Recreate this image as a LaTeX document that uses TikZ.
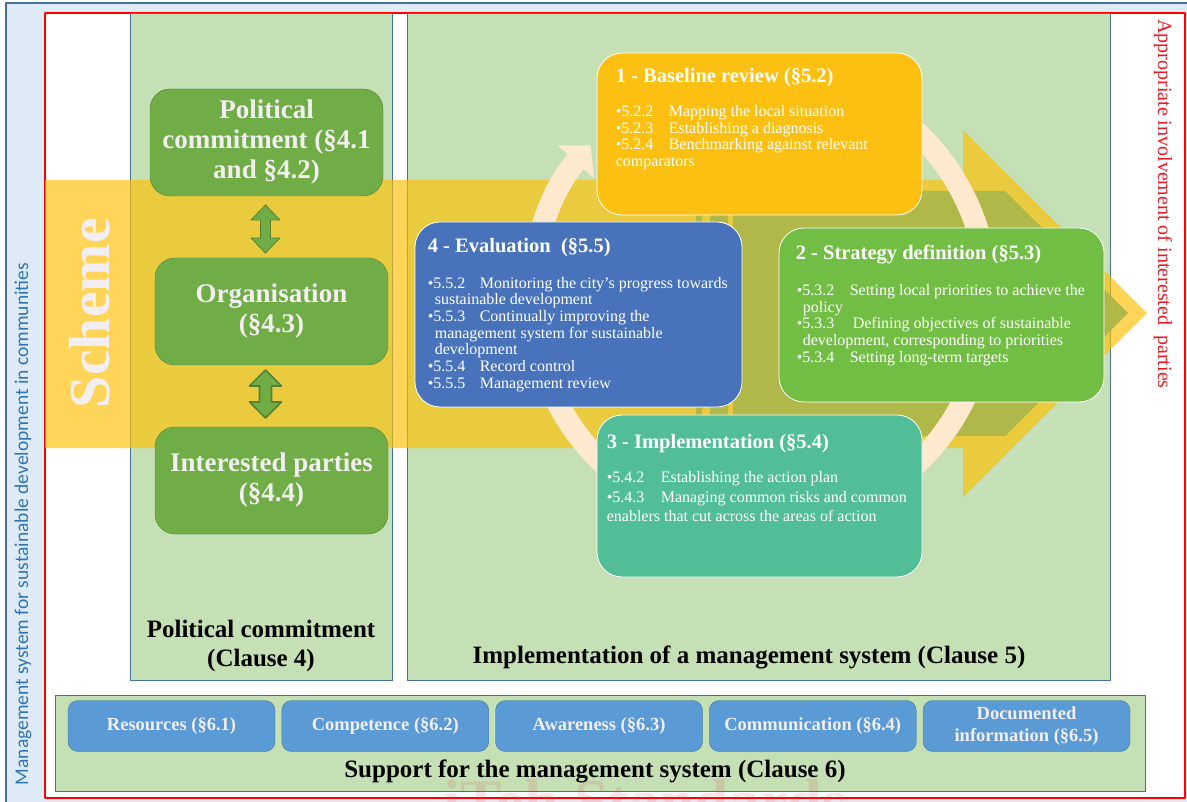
\documentclass[tikz,border=0pt]{standalone}
\usepackage{fontspec}
\setmainfont{Liberation Serif}
\newfontfamily\sidefont{Carlito}
\usetikzlibrary{arrows.meta,calc}
\definecolor{bgblue}{RGB}{222,235,247}
\definecolor{frameblue}{RGB}{65,113,156}
\definecolor{panelgreen}{RGB}{197,224,180}
\definecolor{bandyellow}{RGB}{255,192,0}
\definecolor{arrowolive}{RGB}{176,184,74}
\definecolor{cream}{RGB}{253,233,206}
\definecolor{baseyellow}{RGB}{252,192,18}
\definecolor{evalblue}{RGB}{72,114,185}
\definecolor{stratgreen}{RGB}{114,190,68}
\definecolor{impteal}{RGB}{82,190,152}
\definecolor{polgreen}{RGB}{112,173,71}
\definecolor{polborder}{RGB}{84,130,53}
\definecolor{suppblue}{RGB}{91,155,213}
\definecolor{paletext}{RGB}{242,238,242}
\definecolor{sideblue}{RGB}{46,117,182}
\definecolor{sidered}{RGB}{235,25,35}
\definecolor{markred}{RGB}{230,60,80}
\newcommand\stepno[2][53pt]{\strut\makebox[#1][l]{\textbullet#2}}
\begin{document}
\begin{tikzpicture}[x=1pt,y=-1pt,line join=round,
    panel/.style={draw=frameblue,line width=.8pt,fill=panelgreen},
    polbox/.style={draw=polborder,fill=polgreen,rounded corners=20pt,minimum width=233pt,minimum height=107pt,align=center,text=paletext,font=\fontsize{27}{30}\selectfont\bfseries},
    stepbox/.style={draw=white,line width=.8pt,rounded corners=25pt,minimum width=325pt},
    steptitle/.style={anchor=base west,inner sep=0pt,text=white,font=\fontsize{20.5}{24}\selectfont\bfseries},
    steplist/.style={anchor=north west,inner sep=0pt,text=white,align=left,font=\fontsize{16}{16.67}\selectfont},
    suppbox/.style={draw=frameblue,fill=suppblue,rounded corners=10pt,minimum width=207pt,minimum height=51pt,align=center,text=paletext,font=\fontsize{18.5}{22}\selectfont\bfseries},
    dblarrow/.style={draw=polborder,fill=polgreen},
    clause/.style={font=\fontsize{25}{29}\selectfont\bfseries,align=center,text=black}]
    \clip (0,0) rectangle (1187,802);
    % frame and panels
    \draw[fill=bgblue,draw=frameblue,line width=1.5pt] (6,3) rectangle (1200,815);
    \draw[red,line width=1.2pt,fill=white] (45,13) rectangle (1185,798);
    \draw[panel] (130,13) rectangle (392,680);
    \draw[panel] (407,13) rectangle (1110,680);
    \draw[panel] (55,695) rectangle (1145,791);
    % scheme arrows
    \fill[bandyellow,opacity=.65] (45,180) -- (963,180) -- (963,130) -- (1147,313) -- (963,497) -- (963,448) -- (45,448) -- cycle;
    \fill[arrowolive] (733,191) -- (1005,191) -- (1128,313) -- (1005,436) -- (733,436) -- cycle;
    \fill[arrowolive] (696,191) rectangle (702,436) (710,191) rectangle (728,436);
    \draw[cream,line width=22pt,-{Triangle[length=22pt,width=48pt]}] (760,298) ++(-65:228) arc[start angle=-65,end angle=222,radius=228];
    \node[rotate=90,text=paletext,font=\fontsize{58}{60}\selectfont\bfseries] (scheme) at (90,313) {Scheme};
    % political commitment
    \node[polbox] (polc) at (266.5,142.5) {Political\\commitment (§4.1\\and §4.2)};
    \node[polbox] (orga) at (271.5,311.5) {Organisation\\(§4.3)};
    \node[polbox] (intp) at (271.5,480.5) {Interested parties\\(§4.4)};
    \coordinate (arr1) at (265.5,229);
    \coordinate (arr2) at (265.5,394);
    \draw[dblarrow,line width=.8pt] ($(arr1)+(0,-24)$) -- ++(14.5,15) -- ++(-9.5,0) -- ++(0,18) -- ++(9.5,0) -- ++(-14.5,15) -- ++(-14.5,-15) -- ++(9.5,0) -- ++(0,-18) -- ++(-9.5,0) -- cycle;
    \draw[dblarrow,line width=1.6pt] ($(arr2)+(0,-24)$) -- ++(16,16) -- ++(-10,0) -- ++(0,16) -- ++(10,0) -- ++(-16,16) -- ++(-16,-16) -- ++(10,0) -- ++(0,-16) -- ++(-10,0) -- cycle;
    % management cycle
    \node[stepbox,fill=baseyellow,minimum height=162pt] (base) at (759.5,134) {};
    \node[stepbox,fill=stratgreen,minimum height=174pt] (strat) at (941.5,315) {};
    \node[stepbox,fill=impteal,minimum height=162pt] (impl) at (759.5,496) {};
    \node[stepbox,fill=evalblue,minimum width=327pt,minimum height=185pt] (eval) at (578.5,314.5) {};
    \node[steptitle] (basetitle) at ([shift={(19,30)}]base.north west) {1 - Baseline review (§5.2)};
    \node[steplist] (baselist) at ([shift={(19,52)}]base.north west) {\stepno{5.2.2}Mapping the local situation\\\stepno{5.2.3}Establishing a diagnosis\\\stepno{5.2.4}Benchmarking against relevant\\comparators};
    \node[steptitle] (strattitle) at ([shift={(17,32)}]strat.north west) {2 - Strategy definition (§5.3)};
    \node[steplist] (stratlist) at ([shift={(18,56)}]strat.north west) {\stepno{5.3.2}Setting local priorities to achieve the\\\hspace*{6pt}policy\\\stepno[56pt]{5.3.3}Defining objectives of sustainable\\\hspace*{6pt}development, corresponding to priorities\\\stepno{5.3.4}Setting long-term targets};
    \node[steptitle] (impltitle) at ([shift={(10,34)}]impl.north west) {3 - Implementation (§5.4)};
    \node[steplist,font=\fontsize{16}{19.3}\selectfont] (impllist) at ([shift={(10,54.5)}]impl.north west) {\stepno[54pt]{5.4.2}Establishing the action plan\\\stepno[54pt]{5.4.3}Managing common risks and common\\enablers that cut across the areas of action};
    \node[steptitle] (evaltitle) at ([shift={(13,31)}]eval.north west) {4 - Evaluation\ \ (§5.5)};
    \node[steplist] (evallist) at ([shift={(13,54.6)}]eval.north west) {\stepno[52pt]{5.5.2}Monitoring the city’s progress towards\\\hspace*{7pt}sustainable development\\\stepno[52pt]{5.5.3}Continually improving the\\\hspace*{7pt}management system for sustainable\\\hspace*{7pt}development\\\stepno[52pt]{5.5.4}Record control\\\stepno[52pt]{5.5.5}Management review};
    % support
    \foreach \lbl [count=\i from 0] in {Resources (§6.1),Competence (§6.2),Awareness (§6.3),Communication (§6.4),{Documented\\information (§6.5)}}
        \node[suppbox] (supp\i) at (171.5+213.75*\i,726) {\lbl};
    \node[clause] (cl4) at (261,645.5) {Political commitment\\(Clause 4)};
    \node[clause] (cl5) at (749,657) {Implementation of a management system (Clause 5)};
    \node[clause] (cl6) at (595,771) {Support for the management system (Clause 6)};
    % side texts
    \node[rotate=90,text=sideblue,font=\sidefont\fontsize{19.5}{22}\selectfont] (mgmt) at (23,524) {Management system for sustainable development in communities};
    \node[rotate=-90,text=sidered,font=\fontsize{20}{22}\selectfont] (involve) at (1163,204) {Appropriate involvement of interested\ \ parties};
    \node[text=markred,opacity=.14,font=\fontsize{62}{62}\selectfont\bfseries,anchor=base] (mark) at (645,822) {iTeh Standards};
\end{tikzpicture}
\end{document}
